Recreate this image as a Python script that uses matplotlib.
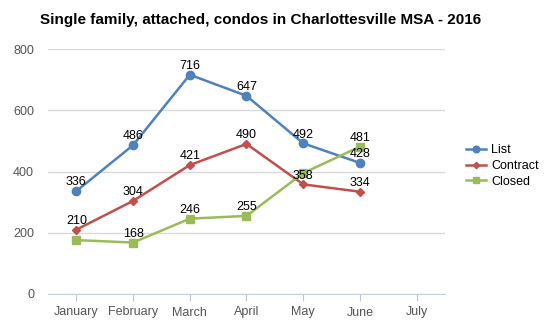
import matplotlib
matplotlib.use("Agg")
import matplotlib.pyplot as plt

months = ["January", "February", "March", "April", "May", "June", "July"]
list_vals = [336, 486, 716, 647, 492, 428]
contract_vals = [210, 304, 421, 490, 358, 334]
closed_vals = [176, 168, 246, 255, 395, 481]
closed_labeled = [False, True, True, True, False, True]

plt.rcParams['font.family'] = ['Liberation Sans', 'DejaVu Sans']

fig = plt.figure(figsize=(5.5, 3.3), dpi=100)
ax = fig.add_axes([48/550, 36/330, (445-48)/550, (294-49)/330])

x = list(range(len(months)))
c_list = "#4F81BD"
c_con = "#C0504D"
c_clo = "#9BBB59"

ax.plot(x[:6], list_vals, color=c_list, lw=1.8, marker="o", ms=6, label="List", zorder=3)
ax.plot(x[:6], contract_vals, color=c_con, lw=1.8, marker="D", ms=4, label="Contract", zorder=3)
ax.plot(x[:6], closed_vals, color=c_clo, lw=1.8, marker="s", ms=6, label="Closed", zorder=3)

for i, v in enumerate(list_vals):
    ax.annotate(str(v), (i, v), xytext=(0, 2), textcoords="offset points", ha="center", va="bottom", fontsize=9, zorder=5)
for i, v in enumerate(contract_vals):
    ax.annotate(str(v), (i, v), xytext=(0, 2), textcoords="offset points", ha="center", va="bottom", fontsize=9, zorder=5)
for i, v in enumerate(closed_vals):
    if closed_labeled[i]:
        ax.annotate(str(v), (i, v), xytext=(0, 2), textcoords="offset points", ha="center", va="bottom", fontsize=9, zorder=5)

ax.set_xlim(-0.5, 6.5)
ax.set_ylim(0, 800)
ax.set_yticks([0, 200, 400, 600, 800])
ax.set_xticks(x)
ax.set_xticklabels(months)
ax.grid(axis="y", color="#d9d9d9", lw=1)
ax.set_axisbelow(True)
for s in ["top", "right", "left"]:
    ax.spines[s].set_visible(False)
ax.spines["bottom"].set_color("#c8d0dc")
ax.tick_params(axis="y", length=0, pad=10, labelsize=9, labelcolor="#555555")
ax.tick_params(axis="x", length=5, color="#b8c8dc", pad=4, labelsize=9, labelcolor="#555555")

fig.text(261/550, 1 - 20/330, "Single family, attached, condos in Charlottesville MSA - 2016",
         ha="center", va="center", fontsize=11, fontweight="bold")

leg = fig.legend(loc="center left", bbox_to_anchor=(455/550, 1 - 166/330), frameon=False,
                 fontsize=9, handlelength=1.6, labelspacing=0.3, handletextpad=0.4, markerscale=0.8)

fig.savefig("out.png", dpi=100)
